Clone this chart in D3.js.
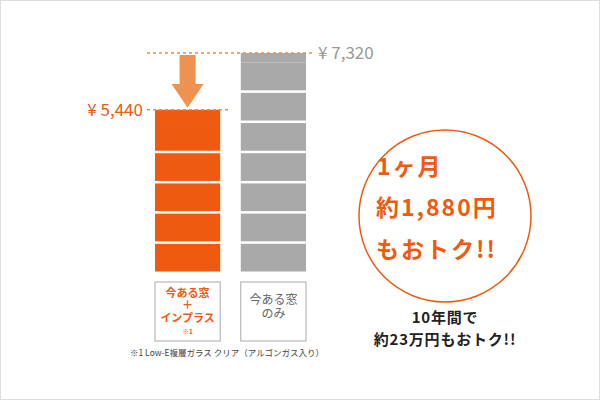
<!DOCTYPE html>
<html><head><meta charset="utf-8">
<script src="https://cdn.jsdelivr.net/npm/d3@7"></script>
<style>body{margin:0;background:#fff}svg{display:block}</style>
</head><body><svg width="600" height="400"></svg>
<script>
const categories = ["今ある窓＋インプラス", "今ある窓のみ"];
const values = [5440, 7320];
const valueLabels = ["¥ 5,440", "¥ 7,320"];
const colors = ["#ee5a0f", "#a9a9a9"];
const blockSize = 1000;

const svg = d3.select("svg");
svg.append("rect").attr("x",0.5).attr("y",0.5).attr("width",599).attr("height",399).attr("fill","#fff").attr("stroke","#ddd");
const font = "'Noto Sans CJK JP', sans-serif";
const x = d3.scaleBand().domain(categories).range([155, 306]).paddingInner(0.24);
const y = d3.scaleLinear().domain([0, 7320]).range([274, 53]);

categories.forEach((c, i) => {
  const v = values[i];
  const blocks = d3.range(0, v, blockSize).map(s => [s, Math.min(s + blockSize, v)]);
  svg.selectAll(null).data(blocks).enter().append("rect")
    .attr("x", x(c)).attr("width", x.bandwidth())
    .attr("y", d => y(d[1]))
    .attr("height", d => Math.max(0, y(d[0]) - y(d[1]) - (d[1] === v ? 0 : 2.5)))
    .attr("fill", colors[i]);
});
svg.append("line").attr("x1",147).attr("x2",228).attr("y1",y(values[0])).attr("y2",y(values[0]))
  .attr("stroke","#f0884a").attr("stroke-width",1.3).attr("stroke-dasharray","3,3");
svg.append("line").attr("x1",147).attr("x2",314).attr("y1",y(values[1])).attr("y2",y(values[1]))
  .attr("stroke","#f0884a").attr("stroke-width",1.3).attr("stroke-dasharray","3,3");
svg.append("text").attr("x",143).attr("y",y(values[0])+6).attr("text-anchor","end")
  .attr("fill","#ee5a0f").attr("font-family",font).attr("font-size",17).text(valueLabels[0]);
svg.append("text").attr("x",318).attr("y",y(values[1])+6)
  .attr("fill","#999").attr("font-family",font).attr("font-size",17).text(valueLabels[1]);
const ax = x(categories[0]) + x.bandwidth()/2;
svg.append("path").attr("d",`M${ax-8},55 H${ax+8} V84 H${ax+16} L${ax},${y(values[0])-2} L${ax-16},84 H${ax-8} Z`).attr("fill","#f0924f");

const boxTexts = [["今ある窓","＋","インプラス","※1"],["今ある窓","のみ"]];
categories.forEach((c,i)=>{
  svg.append("rect").attr("x",x(c)).attr("y",282).attr("width",x.bandwidth()).attr("height",59)
    .attr("fill","none").attr("stroke","#aaa");
  const t = boxTexts[i];
  const ys = i===0 ? [297,309,322,334] : [304,318];
  t.forEach((s,j)=>svg.append("text").attr("x",x(c)+x.bandwidth()/2).attr("y",ys[j]).attr("text-anchor","middle")
    .attr("fill", i===0 ? "#ee5a0f" : "#666").attr("font-family",font)
    .attr("font-weight", i===0 ? "bold":"normal").attr("font-size", s==="※1"?6.5:(i===0?11:12)).text(s));
});
svg.append("text").attr("x",130).attr("y",356).attr("fill","#444").attr("font-family",font).attr("font-size",8.5)
  .text("※1 Low-E複層ガラス クリア（アルゴンガス入り）");

svg.append("circle").attr("cx",445).attr("cy",216).attr("r",86).attr("fill","none").attr("stroke","#ee5a0f").attr("stroke-width",1.5);
[["1ヶ月",377,175],["約1,880円",376,216],["もおトク!!",376,258]].forEach(d=>
  svg.append("text").attr("x",d[1]).attr("y",d[2]).attr("fill","#ee5a0f").attr("font-family",font)
    .attr("font-weight","bold").attr("font-size",23).attr("letter-spacing",2).text(d[0]));
[["10年間で",323],["約23万円もおトク!!",345]].forEach(d=>
  svg.append("text").attr("x",445).attr("y",d[1]).attr("text-anchor","middle").attr("fill","#222")
    .attr("font-family",font).attr("font-weight","bold").attr("font-size",15).attr("letter-spacing",0.8).text(d[0]));
</script></body></html>
